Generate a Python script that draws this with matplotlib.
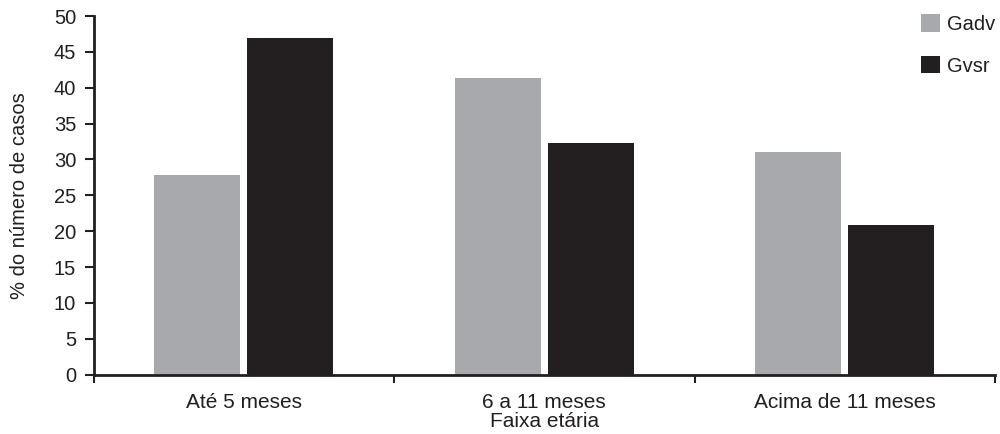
import matplotlib
matplotlib.use("Agg")
import matplotlib.pyplot as plt
import numpy as np

categories = ["Até 5 meses", "6 a 11 meses", "Acima de 11 meses"]
series_names = ["Gadv", "Gvsr"]
gadv = [27.8, 41.3, 31.1]
gvsr = [47.0, 32.3, 20.9]
yticks = [0, 5, 10, 15, 20, 25, 30, 35, 40, 45, 50]

plt.rcParams['font.family'] = ['Liberation Sans', 'DejaVu Sans']
FS = 14.5
FSX = 15
fig = plt.figure(figsize=(10, 4.34), dpi=100)
ax = fig.add_axes([0.0935, 0.1366, 0.9015, 0.8265])

x = np.arange(len(categories))
w = 0.286
gap = 0.012
ax.bar(x - w/2 - gap, gadv, width=w, color="#a7a9ac", label=series_names[0])
ax.bar(x + w/2 + gap, gvsr, width=w, color="#231f20", label=series_names[1])

ax.set_xlim(-0.5, 2.5)
ax.set_ylim(0, 50)
ax.set_yticks(yticks)
ax.set_xticks(x)
ax.set_xticklabels(categories)
ax.set_xticks([-0.5, 0.5, 1.5, 2.5], minor=True)
ax.tick_params(axis='x', which='major', length=0, labelsize=FSX, colors='#231f20', pad=13)
ax.tick_params(axis='x', which='minor', length=6, width=1.5, direction='out', color='#231f20')
ax.tick_params(axis='y', length=6.5, width=1.5, direction='out', labelsize=FS, colors='#231f20', pad=6)
for s in ['top', 'right']:
    ax.spines[s].set_visible(False)
for s in ['left', 'bottom']:
    ax.spines[s].set_linewidth(2)
    ax.spines[s].set_color('#231f20')
ax.set_ylabel("% do número de casos", fontsize=FS, color='#231f20')
ax.yaxis.set_label_coords(-0.071, 0.5)
ax.set_xlabel("Faixa etária", fontsize=FSX, color='#231f20')
ax.xaxis.set_label_coords(0.5, -0.103)

leg = ax.legend(loc='upper right', bbox_to_anchor=(1.0, 1.005), frameon=False, fontsize=FS,
                handlelength=0.95, handleheight=0.95, labelspacing=1.1, handletextpad=0.35,
                borderpad=0, borderaxespad=0)
for t in leg.get_texts():
    t.set_color('#231f20')

fig.savefig("out.png", dpi=100)
